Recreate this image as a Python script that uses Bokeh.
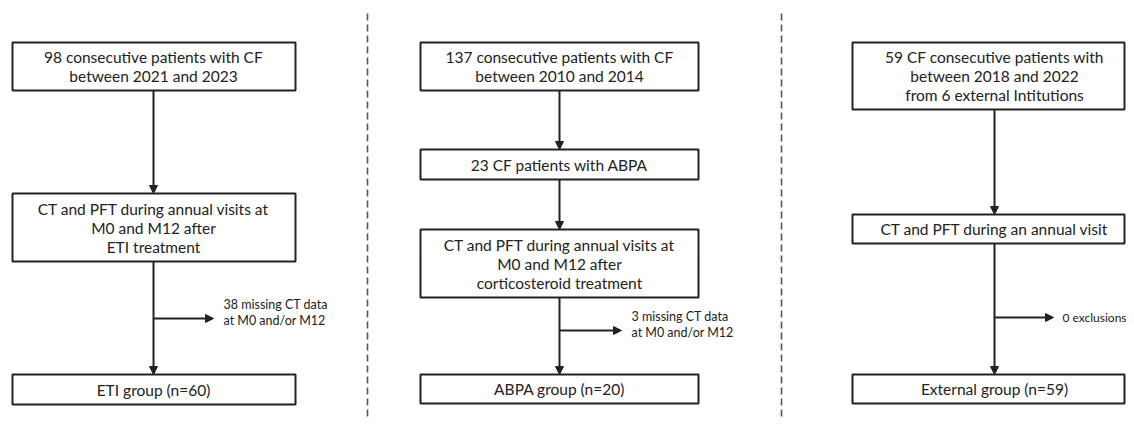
from bokeh.plotting import figure
from bokeh.models import Range1d, Arrow, NormalHead
from bokeh.core.properties import value
from bokeh.embed import file_html
from bokeh.resources import INLINE

# ---- content (texts) ----
left_boxes = ["98 consecutive patients with CF\nbetween 2021 and 2023",
              "CT and PFT during annual visits at\nM0 and M12 after\nETI treatment",
              "ETI group (n=60)"]
left_excl = "38 missing CT data\nat M0 and/or M12"

mid_boxes = ["137 consecutive patients with CF\nbetween 2010 and 2014",
             "23 CF patients with ABPA",
             "CT and PFT during annual visits at\nM0 and M12 after\ncorticosteroid treatment",
             "ABPA group (n=20)"]
mid_excl = "3 missing CT data\nat M0 and/or M12"

right_boxes = ["59 CF consecutive patients with\nbetween 2018 and 2022\nfrom 6 external Intitutions",
               "CT and PFT during an annual visit",
               "External group (n=59)"]
right_excl = "0 exclusions"

# ---- layout (pixel-like coordinates) ----
columns = [
    dict(boxes=left_boxes, excl=left_excl, l=12, r=295, cx=153,
         ys=[(42, 90), (193, 261), (374, 404)], branch=(318, 213, 223, "12.5px")),
    dict(boxes=mid_boxes, excl=mid_excl, l=420, r=698, cx=559,
         ys=[(42, 90), (149, 179), (229, 297), (374, 403)], branch=(330, 621, 631, "12.5px")),
    dict(boxes=right_boxes, excl=right_excl, l=852, r=1124, cx=994,
         ys=[(42, 109), (214, 243), (374, 403)], branch=(317, 1053, 1062, "12px")),
]
dividers = [367, 781]

W, H = 1126, 418
p = figure(width=W, height=H, x_range=Range1d(0, W), y_range=Range1d(H, 0),
           output_backend="svg", toolbar_location=None, min_border=0)
p.axis.visible = False
p.grid.visible = False
p.outline_line_color = None
p.background_fill_color = "white"
p.border_fill_color = "white"

FONT = "Lato"
INK = "#222222"
LINE_H = 19

for xd in dividers:
    p.line([xd, xd], [13, 430], line_color="#555555", line_width=1.6, line_dash="7 4")

for col in columns:
    cx = col["cx"]
    for i in range(len(col["ys"]) - 1):
        y0 = col["ys"][i][1]
        y1 = col["ys"][i + 1][0]
        p.add_layout(Arrow(end=NormalHead(size=8, fill_color=INK, line_color=INK, line_width=1),
                           x_start=cx, y_start=y0, x_end=cx, y_end=y1,
                           line_color=INK, line_width=2))
    by, bx_end, tx, fs = col["branch"]
    p.add_layout(Arrow(end=NormalHead(size=8, fill_color=INK, line_color=INK, line_width=1),
                       x_start=cx, y_start=by, x_end=bx_end, y_end=by,
                       line_color=INK, line_width=2))
    excl_lines = col["excl"].split("\n")
    n = len(excl_lines)
    ey = [by - 6 + 16 * (k - (n - 1) / 2) for k in range(n)] if n > 1 else [by]
    p.text(x=[tx] * n, y=ey, text=excl_lines, text_font=value(FONT), text_font_size=fs,
           text_align="left", text_baseline="middle", text_color=INK)
    tops = [t for t, b in col["ys"]]
    bots = [b for t, b in col["ys"]]
    p.quad(left=[col["l"]] * len(tops), right=[col["r"]] * len(tops), top=tops, bottom=bots,
           fill_color="white", line_color=INK, line_width=2)
    for (t, b), label in zip(col["ys"], col["boxes"]):
        lines = label.split("\n")
        n = len(lines)
        mid = (t + b) / 2
        ys = [mid + LINE_H * (k - (n - 1) / 2) for k in range(n)]
        p.text(x=[cx] * n, y=ys, text=lines, text_font=value(FONT), text_font_size="15.5px",
               text_align="center", text_baseline="middle", text_color=INK)

open("out.html", "w").write(file_html(p, INLINE))
